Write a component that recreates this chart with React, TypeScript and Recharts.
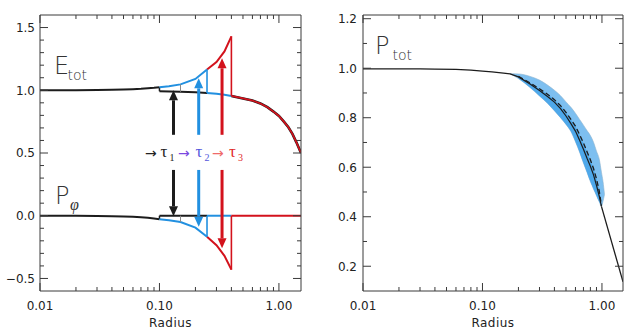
import React from 'react'
import { ComposedChart, Line, Area, XAxis, YAxis, ReferenceLine } from 'recharts'

// ---------- shared axis ticks ----------
const xMajor = [0.01, 0.1, 1]
const xMinor = [0.02, 0.03, 0.04, 0.05, 0.06, 0.07, 0.08, 0.09, 0.2, 0.3, 0.4, 0.5, 0.6, 0.7, 0.8, 0.9]

// ---------- left panel (E_tot / P_phi) ----------
const leftYMajor = [-0.5, 0, 0.5, 1, 1.5]
const leftYMinor = [-0.4, -0.3, -0.2, -0.1, 0.1, 0.2, 0.3, 0.4, 0.6, 0.7, 0.8, 0.9, 1.1, 1.2, 1.3, 1.4]

// before the jump
const preR = [0.01, 0.015, 0.02, 0.03, 0.04, 0.05, 0.06, 0.07, 0.08, 0.09, 0.1]
const ePre = [1.0, 1.0, 1.0, 1.002, 1.004, 1.006, 1.009, 1.012, 1.016, 1.02, 1.025]
const pPre = [0, 0, -0.001, -0.002, -0.004, -0.006, -0.009, -0.013, -0.017, -0.022, -0.028]

// growing branch after the jump
const burstR = [0.1, 0.12, 0.15, 0.2, 0.25, 0.3, 0.35, 0.4]
const eUpper = [1.025, 1.033, 1.047, 1.09, 1.165, 1.225, 1.31, 1.43]
const pLower = [-0.028, -0.036, -0.05, -0.095, -0.168, -0.235, -0.32, -0.43]

// relaxed branch of E_tot
const eLowR = [0.1, 0.15, 0.2, 0.25, 0.3, 0.35, 0.4, 0.5, 0.6, 0.7, 0.8, 0.9, 1.0, 1.1, 1.2, 1.3, 1.4, 1.53]
const eLow = [0.992, 0.988, 0.984, 0.979, 0.972, 0.964, 0.955, 0.935, 0.918, 0.895, 0.865, 0.83, 0.795, 0.75, 0.705, 0.65, 0.585, 0.5]

// P_phi zero line pieces
const pZeroR = [0.1, 0.25, 0.4, 1.53]

// tau markers
const tauR = [0.15, 0.25, 0.4]
const arrowR = [0.131, 0.213, 0.334]
const arrowUpFrom = [0.645, 0.645, 0.645]
const arrowUpTo = [1.0, 1.095, 1.255]
const arrowDownFrom = [0.365, 0.365, 0.365]
const arrowDownTo = [-0.005, -0.087, -0.26]

// ---------- right panel (P_tot) ----------
const rightYMajor = [0.2, 0.4, 0.6, 0.8, 1.0, 1.2]
const rightYMinor = [0.3, 0.5, 0.7, 0.9, 1.1]

const pTotR = [0.01, 0.02, 0.03, 0.04, 0.06, 0.08, 0.1, 0.12, 0.15, 0.17]
const pTot = [0.997, 0.997, 0.997, 0.996, 0.995, 0.992, 0.988, 0.985, 0.98, 0.977]

const bandR = [0.17, 0.2, 0.25, 0.3, 0.35, 0.4, 0.45, 0.5, 0.55, 0.6, 0.65, 0.7, 0.75, 0.8, 0.85, 0.9, 0.95, 0.99, 1.02, 1.05]
const bandHigh = [0.978, 0.977, 0.967, 0.952, 0.932, 0.911, 0.889, 0.864, 0.842, 0.818, 0.793, 0.77, 0.748, 0.728, 0.701, 0.665, 0.632, 0.58, 0.543, 0.49]
const bandLow = [0.978, 0.958, 0.922, 0.888, 0.858, 0.828, 0.8, 0.773, 0.744, 0.703, 0.661, 0.617, 0.579, 0.542, 0.512, 0.485, 0.46, 0.442, 0.462, 0.49]

const coreR = [0.2, 0.25, 0.3, 0.35, 0.4, 0.45, 0.5, 0.55, 0.6, 0.65, 0.7, 0.75, 0.8, 0.85, 0.9, 0.95, 0.99]
const coreSolid = [0.965, 0.936, 0.91, 0.886, 0.863, 0.837, 0.807, 0.776, 0.746, 0.709, 0.673, 0.636, 0.604, 0.569, 0.527, 0.482, 0.442]
const coreDashed = [0.967, 0.941, 0.917, 0.895, 0.873, 0.849, 0.822, 0.793, 0.766, 0.732, 0.698, 0.663, 0.63, 0.595, 0.553, 0.503, 0.445]

const tailR = [0.99, 1.5]
const tail = [0.442, 0.137]

// ---------- styling ----------
const BLACK = '#1c1c1c'
const BLUE = '#2290e0'
const RED = '#d3121c'
const AXIS = '#3a3a3a'
const TICK_TEXT = { fontFamily: '"DejaVu Sans", sans-serif', fontSize: 12, fill: '#222' }

const pts = (rs: number[], vs: number[]) => rs.map((r, i) => ({ r, v: vs[i] }))
const pick = (rs: number[], vs: number[], lo: number, hi: number) =>
  pts(rs, vs).filter((d) => d.r >= lo && d.r <= hi)
const at = (rs: number[], vs: number[], r: number) => vs[rs.indexOf(r)]

const fmtX = (v: number) => v.toFixed(2)
const fmtY = (v: number) => (v < 0 ? '\u2212' + Math.abs(v).toFixed(1) : v.toFixed(1))

function xTick(side: 'top' | 'bottom') {
  return (p: any) => {
    const v = p.payload.value
    const major = xMajor.includes(v)
    const len = major ? 8 : 4
    const d = side === 'bottom' ? -1 : 1
    return (
      <g>
        <line x1={p.x} x2={p.x} y1={p.y} y2={p.y + d * len} stroke={AXIS} />
        {side === 'bottom' && major && (
          <text x={p.x} y={p.y + 19} textAnchor="middle" {...TICK_TEXT}>
            {fmtX(v)}
          </text>
        )}
      </g>
    )
  }
}

function yTick(side: 'left' | 'right', majors: number[], gap: number) {
  return (p: any) => {
    const v = p.payload.value
    const major = majors.includes(v)
    const len = major ? 8 : 4
    const d = side === 'left' ? 1 : -1
    return (
      <g>
        <line x1={p.x} x2={p.x + d * len} y1={p.y} y2={p.y} stroke={AXIS} />
        {side === 'left' && major && (
          <text x={p.x - gap} y={p.y} dy="0.36em" textAnchor="end" {...TICK_TEXT}>
            {fmtY(v)}
          </text>
        )}
      </g>
    )
  }
}

function arrowShape(color: string) {
  return (p: any) => {
    const { x1, y1, x2, y2 } = p
    const dir = y2 < y1 ? -1 : 1
    const head = 10
    const half = 4.5
    const baseY = y2 - dir * head
    return (
      <g>
        <line x1={x1} y1={y1} x2={x2} y2={baseY} stroke={color} strokeWidth={3} />
        <polygon points={`${x2},${y2} ${x2 - half},${baseY} ${x2 + half},${baseY}`} fill={color} />
      </g>
    )
  }
}

// four axes make the closed box; the top/right ones only carry inward ticks
function axes(domainX: number[], domainY: number[], yTicks: number[], yMajor: number[], yWidth: number, gap: number) {
  const xTicks = [...xMajor, ...xMinor].sort((a, b) => a - b)
  const common = { type: 'number' as const, allowDataOverflow: true, interval: 0 as const, tickSize: 0, tickMargin: 0, tickLine: false, stroke: AXIS }
  return [
    <XAxis key="xb" xAxisId="b" dataKey="r" scale="log" domain={domainX} ticks={xTicks} height={43} {...common}
      tick={xTick('bottom')}
      label={{ value: 'Radius', position: 'insideBottom', offset: 7, fill: '#222', fontSize: 12, fontFamily: '"DejaVu Sans", sans-serif', letterSpacing: 0.5 }} />,
    <XAxis key="xt" xAxisId="t" orientation="top" dataKey="r" scale="log" domain={domainX} ticks={xTicks} height={1} {...common} tick={xTick('top')} />,
    <YAxis key="yl" yAxisId="l" domain={domainY} ticks={yTicks} width={yWidth} {...common} tick={yTick('left', yMajor, gap)} />,
    <YAxis key="yr" yAxisId="r" orientation="right" domain={domainY} ticks={yTicks} width={1} {...common} tick={yTick('right', yMajor, gap)} />,
  ]
}

// invisible series so the top/right axes are attached to something
function ghost(data: { r: number; v: number }[]) {
  return (
    <Line key="ghost" data={data} dataKey="v" xAxisId="t" yAxisId="r" stroke="none" dot={false} activeDot={false}
      isAnimationActive={false} legendType="none" />
  )
}

function seg(key: string, data: { r: number; v: number }[], color: string, width = 2, extra: any = {}) {
  return (
    <Line key={key} data={data} dataKey="v" xAxisId="b" yAxisId="l" type="linear" stroke={color} strokeWidth={width}
      dot={false} activeDot={false} isAnimationActive={false} {...extra} />
  )
}

function LeftPanel() {
  const yTicks = [...leftYMajor, ...leftYMinor].sort((a, b) => a - b)
  const arrowColors = [BLACK, BLUE, RED]
  const tauColors = ['#8a8a8a', BLUE, RED]
  return (
    <ComposedChart width={320} height={334} margin={{ top: 14, right: 18, left: 0, bottom: 0 }}>
      {axes([0.01, 1.53], [-0.6, 1.6], yTicks, leftYMajor, 40, 5)}
      {ghost(pts(preR, ePre))}

      {/* E_tot */}
      {seg('ePre', pts(preR, ePre), BLACK)}
      {seg('eStep', [{ r: 0.1, v: at(preR, ePre, 0.1) }, { r: 0.1, v: at(eLowR, eLow, 0.1) }], BLACK, 1.5)}
      {seg('eLowK', pick(eLowR, eLow, 0.1, 0.25), BLACK)}
      {seg('eLowTail', pick(eLowR, eLow, 0.4, 1.53), BLACK, 2.6)}
      {seg('eUpB', pick(burstR, eUpper, 0.1, 0.25), BLUE)}
      {seg('eUpR', pick(burstR, eUpper, 0.25, 0.4), RED)}
      {seg('eLowB', pick(eLowR, eLow, 0.25, 0.4), BLUE)}
      {seg('eLowR', pick(eLowR, eLow, 0.4, 1.53), RED, 1.7)}

      {/* P_phi */}
      {seg('pPre', pts(preR, pPre), BLACK)}
      {seg('pStep', [{ r: 0.1, v: at(preR, pPre, 0.1) }, { r: 0.1, v: 0 }], BLACK, 1.5)}
      {seg('pLowB', pick(burstR, pLower, 0.1, 0.25), BLUE)}
      {seg('pLowR', pick(burstR, pLower, 0.25, 0.4), RED)}
      {seg('p0K', [{ r: pZeroR[0], v: 0 }, { r: pZeroR[1], v: 0 }], BLACK)}
      {seg('p0B', [{ r: pZeroR[1], v: 0 }, { r: pZeroR[2], v: 0 }], BLUE)}
      {seg('p0R', [{ r: pZeroR[2], v: 0 }, { r: pZeroR[3], v: 0 }], RED)}

      {/* jumps at each tau */}
      {tauR.map((r, i) => [
        seg(`ej${i}`, [{ r, v: at(burstR, eUpper, r) }, { r, v: at(eLowR, eLow, r) }], tauColors[i], i === 0 ? 1 : 1.6),
        seg(`pj${i}`, [{ r, v: at(burstR, pLower, r) }, { r, v: 0 }], tauColors[i], i === 0 ? 1 : 1.6),
      ])}

      {/* arrows */}
      {arrowR.map((r, i) => (
        <ReferenceLine key={`au${i}`} xAxisId="b" yAxisId="l" segment={[{ x: r, y: arrowUpFrom[i] }, { x: r, y: arrowUpTo[i] }]}
          stroke={arrowColors[i]} shape={arrowShape(arrowColors[i])} />
      ))}
      {arrowR.map((r, i) => (
        <ReferenceLine key={`ad${i}`} xAxisId="b" yAxisId="l" segment={[{ x: r, y: arrowDownFrom[i] }, { x: r, y: arrowDownTo[i] }]}
          stroke={arrowColors[i]} shape={arrowShape(arrowColors[i])} />
      ))}
    </ComposedChart>
  )
}

function RightPanel() {
  const yTicks = [...rightYMajor, ...rightYMinor].sort((a, b) => a - b)
  const bandRows = bandR.map((r, i) => ({ r, band: [bandLow[i], bandHigh[i]] }))
  const innerRows = coreR.map((r, i) => ({ r, inner: [at(bandR, bandLow, r), coreDashed[i]] }))
  const lineProps = { xAxisId: 'b', yAxisId: 'l', type: 'linear' as const, dot: false, activeDot: false, isAnimationActive: false, dataKey: 'v' }
  return (
    <ComposedChart width={320} height={334} data={bandRows} margin={{ top: 14, right: 16, left: 0, bottom: 0 }}>
      {axes([0.01, 1.5], [0.1, 1.215], yTicks, rightYMajor, 43, 6)}
      {ghost(pts(pTotR, pTot))}
      <Area xAxisId="b" yAxisId="l" dataKey="band" type="monotone" fill="#7dbff0" fillOpacity={1} stroke="#8fb4cf" strokeWidth={0.6} isAnimationActive={false} />
      <Area xAxisId="b" yAxisId="l" data={innerRows} dataKey="inner" type="monotone" fill="#4ea8ea" fillOpacity={1} stroke="none" isAnimationActive={false} />
      <Line {...lineProps} data={[...pts(pTotR, pTot), ...pts(coreR, coreSolid)]} stroke={BLACK} strokeWidth={1.2} />
      <Line {...lineProps} data={pts(coreR, coreDashed)} stroke={BLACK} strokeWidth={1.3} strokeDasharray="5 3" />
      <Line {...lineProps} data={pts(tailR, tail)} stroke={BLACK} strokeWidth={1.3} />
    </ComposedChart>
  )
}

const LABEL = { fontFamily: '"DejaVu Sans", sans-serif', fill: '#333', fontWeight: 200 }
const SERIF = '"Liberation Serif", "DejaVu Serif", serif'

export default function App() {
  return (
    <div style={{ position: 'absolute', left: 0, top: 0, width: 640, height: 334, background: '#fff', overflow: 'hidden' }}>
      <div style={{ position: 'absolute', left: 0, top: 0 }}>
        <LeftPanel />
      </div>
      <div style={{ position: 'absolute', left: 320, top: 0 }}>
        <RightPanel />
      </div>
      <svg width={640} height={334} style={{ position: 'absolute', left: 0, top: 0, pointerEvents: 'none' }}>
        <text x={54} y={73.5} fontSize={24} {...LABEL}>E</text>
        <text x={67.5} y={79.5} fontSize={14} {...LABEL}>tot</text>
        <text x={55} y={203.5} fontSize={24} {...LABEL}>P</text>
        <text x={70} y={210} fontSize={16} fontStyle="italic" fontFamily={SERIF} fill="#333">φ</text>
        <text x={375} y={54} fontSize={24} {...LABEL}>P</text>
        <text x={392.5} y={60} fontSize={14} {...LABEL}>tot</text>

        <text x={145} y={158} fontSize={14} fontFamily='"DejaVu Sans", sans-serif' fill="#222">→</text>
        <text x={160.5} y={157} fontSize={17} fontFamily={SERIF} fill="#222">τ</text>
        <text x={169.5} y={161} fontSize={10} fontFamily={SERIF} fill="#222">1</text>
        <text x={178} y={158} fontSize={14} fontFamily='"DejaVu Sans", sans-serif' fill="#7b48e0">→</text>
        <text x={195.5} y={157} fontSize={17} fontFamily={SERIF} fill="#5457dc">τ</text>
        <text x={204.5} y={161} fontSize={10} fontFamily={SERIF} fill="#5457dc">2</text>
        <text x={212} y={158} fontSize={14} fontFamily='"DejaVu Sans", sans-serif' fill="#ef6a6a">→</text>
        <text x={229} y={157} fontSize={17} fontFamily={SERIF} fill="#e02a2a">τ</text>
        <text x={238} y={161} fontSize={10} fontFamily={SERIF} fill="#e02a2a">3</text>
      </svg>
    </div>
  )
}
